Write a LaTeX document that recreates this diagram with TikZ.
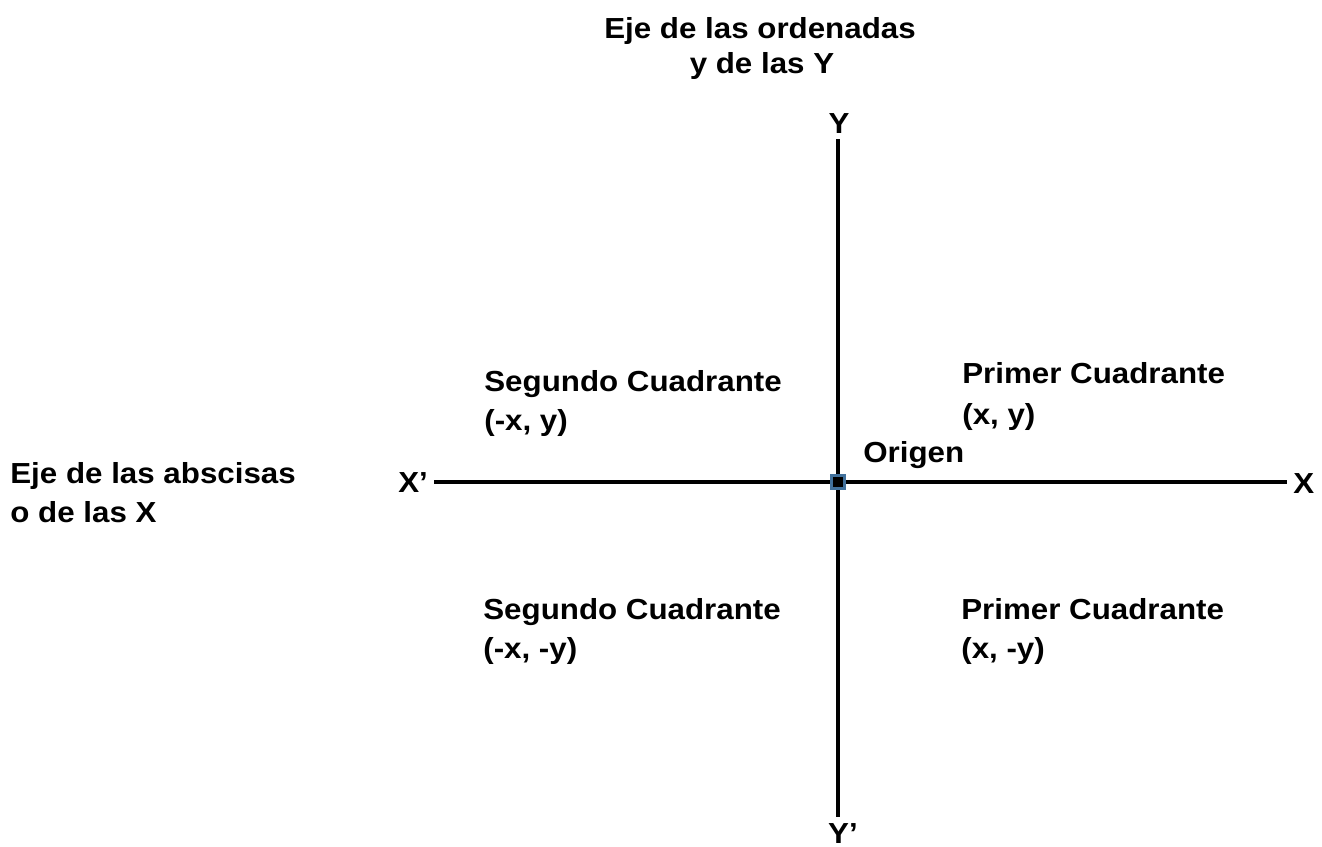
\documentclass[tikz,border=0pt]{standalone}
\usepackage{fontspec}
\setmainfont[FakeStretch=1.08]{Liberation Sans}
\usepackage{tikz}
\definecolor{origblue}{RGB}{65,113,156}
\tikzset{
  lbl/.style={font=\bfseries\fontsize{16.5}{19.8}\selectfont, inner sep=0pt},
  axlbl/.style={font=\bfseries\fontsize{16.5}{19.8}\selectfont, inner sep=0.12cm},
  axis/.style={line width=2pt, black}
}

\begin{document}
\begin{tikzpicture}[x=0.02cm, y=-0.02cm]
  \useasboundingbox (0,0) rectangle (1322,846);
  \coordinate (O) at (838,482);
  % labels in the quadrants and beside the axes
  \foreach \n/\x/\y/\t in {Ttl1/760/38/Eje de las ordenadas, Ttl2/762/73/y de las Y}
  {
    \node[lbl, anchor=base] (\n) at (\x, \y) {\t};
  }
  \foreach \n/\x/\y/\t in {QIa/962/383/Primer Cuadrante, QIb/962/424/{(x, y)},
    QIIa/484/391/Segundo Cuadrante, QIIb/484/430/{(-x, y)},
    QIIIa/483/619/Segundo Cuadrante, QIIIb/483/658/{(-x, -y)},
    QIVa/961/619/Primer Cuadrante, QIVb/961/658/{(x, -y)},
    Abs1/10/483/Eje de las abscisas, Abs2/10/522/o de las X, Orig/863/462/Origen}
  {
    \node[lbl, anchor=base west] (\n) at (\x, \y) {\t};
  }
  \node[axlbl, anchor=base] (Y) at (839,133) {Y};
  \node[axlbl, anchor=base] (Yp) at (843,843) {Y’};
  \node[axlbl, anchor=base west] (Xp) at (392,492) {X’};
  \node[axlbl, anchor=base west] (X) at (1287,493) {X};
  \path[draw,axis] (Xp.east |- O) -- (X.west |- O);
  \path[draw,axis] (Y.south -| O) -- (Yp.north -| O);
  \node[draw=origblue, fill=black, line width=1.2pt, minimum size=0.26cm, inner sep=0pt] (Org) at (O) {};
\end{tikzpicture}
\end{document}
